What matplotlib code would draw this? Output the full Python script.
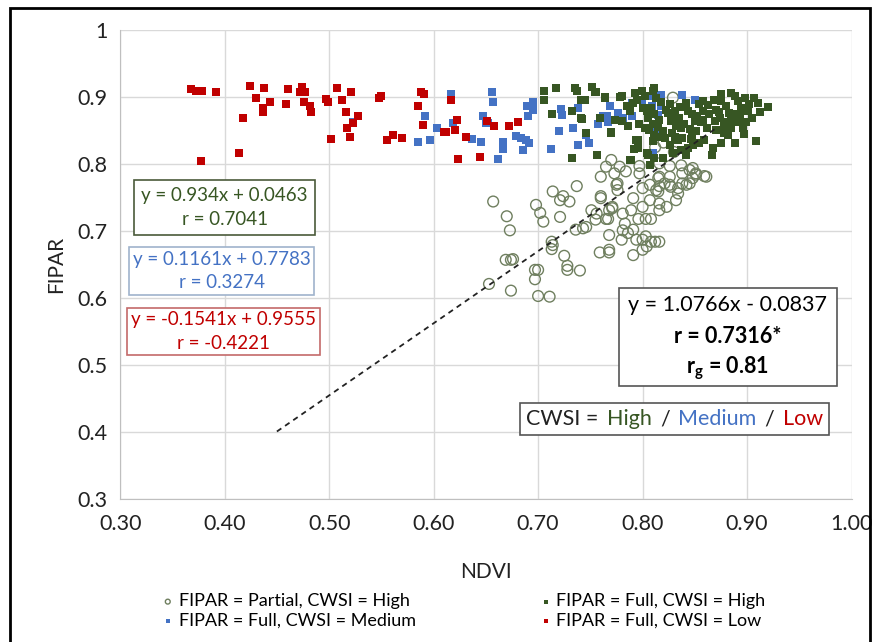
import numpy as np
import matplotlib.pyplot as plt
from matplotlib.patches import Rectangle
from matplotlib.offsetbox import TextArea, HPacker, AnchoredOffsetbox

plt.rcParams['font.family'] = ['Lato', 'DejaVu Sans']
plt.rcParams['mathtext.fontset'] = 'custom'
plt.rcParams['mathtext.rm'] = 'Lato'
plt.rcParams['mathtext.bf'] = 'Lato:bold'

#--- DATA ---#

# FIPAR = Full, CWSI = Low
low_x = [0.368, 0.373, 0.378, 0.392, 0.424, 0.438, 0.430, 0.443, 0.437, 0.437, 0.418, 0.414,
         0.377, 0.461, 0.459, 0.474, 0.472, 0.477, 0.476, 0.482, 0.483, 0.497, 0.499, 0.508,
         0.521, 0.512, 0.516, 0.528, 0.523, 0.517, 0.520, 0.502, 0.550, 0.548, 0.555, 0.561,
         0.570, 0.588, 0.591, 0.585, 0.590, 0.617, 0.622, 0.620, 0.610, 0.612, 0.631, 0.623,
         0.644, 0.651, 0.658, 0.672, 0.681]
low_y = [0.912, 0.909, 0.909, 0.908, 0.916, 0.913, 0.898, 0.892, 0.883, 0.877, 0.868, 0.817,
         0.805, 0.912, 0.889, 0.915, 0.908, 0.908, 0.893, 0.887, 0.877, 0.897, 0.892, 0.913,
         0.908, 0.895, 0.877, 0.871, 0.861, 0.853, 0.841, 0.838, 0.902, 0.899, 0.836, 0.843,
         0.839, 0.908, 0.904, 0.887, 0.858, 0.895, 0.866, 0.850, 0.848, 0.848, 0.840, 0.807,
         0.811, 0.864, 0.856, 0.856, 0.862]

# FIPAR = Full, CWSI = Medium
med_x = [0.617, 0.656, 0.657, 0.592, 0.603, 0.597, 0.585, 0.523, 0.619, 0.637, 0.645, 0.647,
         0.652, 0.662, 0.650, 0.666, 0.666, 0.679, 0.684, 0.688, 0.691, 0.686, 0.690, 0.689,
         0.695, 0.695, 0.712, 0.720, 0.722, 0.723, 0.733, 0.738, 0.738, 0.746, 0.749, 0.757,
         0.762, 0.766, 0.767, 0.769, 0.790, 0.790, 0.799, 0.808, 0.809, 0.818, 0.818, 0.815,
         0.812, 0.816, 0.810, 0.838, 0.850, 0.776, 0.781]
med_y = [0.905, 0.908, 0.892, 0.872, 0.853, 0.836, 0.833, 0.863, 0.861, 0.838, 0.833, 0.872,
         0.861, 0.807, 0.861, 0.833, 0.823, 0.842, 0.839, 0.836, 0.832, 0.821, 0.871, 0.886,
         0.893, 0.881, 0.823, 0.849, 0.882, 0.873, 0.853, 0.883, 0.828, 0.844, 0.831, 0.859,
         0.872, 0.871, 0.863, 0.887, 0.891, 0.871, 0.895, 0.902, 0.886, 0.903, 0.886, 0.873,
         0.853, 0.847, 0.817, 0.903, 0.895, 0.876, 0.868]

# FIPAR = Full, CWSI = High
high_x = [0.706, 0.717, 0.706, 0.713, 0.735, 0.737, 0.732, 0.741, 0.745, 0.752, 0.755, 0.741,
          0.764, 0.759, 0.770, 0.780, 0.785, 0.774, 0.780, 0.786, 0.791, 0.788, 0.793, 0.799,
          0.802, 0.804, 0.797, 0.802, 0.796, 0.796, 0.805, 0.732, 0.756, 0.788, 0.811, 0.808,
          0.806, 0.811, 0.754, 0.764, 0.742, 0.746, 0.770, 0.778, 0.794, 0.792, 0.789, 0.804,
          0.810, 0.813, 0.826, 0.824, 0.831, 0.835, 0.827, 0.832, 0.837, 0.843, 0.847, 0.842,
          0.854, 0.858, 0.858, 0.864, 0.869, 0.874, 0.875, 0.880, 0.885, 0.888, 0.891, 0.894,
          0.898, 0.902, 0.901, 0.907, 0.910, 0.920, 0.909, 0.896, 0.899, 0.891, 0.885, 0.880,
          0.878, 0.882, 0.888, 0.875, 0.867, 0.866, 0.859, 0.854, 0.848, 0.843, 0.842, 0.837,
          0.829, 0.826, 0.821, 0.820, 0.831, 0.838, 0.847, 0.851, 0.875, 0.870, 0.883, 0.890,
          0.850, 0.856, 0.862, 0.870, 0.810, 0.811, 0.816, 0.815, 0.810, 0.811, 0.820, 0.807,
          0.795, 0.800, 0.805, 0.815, 0.822, 0.828, 0.836, 0.840, 0.845, 0.852, 0.858, 0.863,
          0.868, 0.873, 0.878, 0.885, 0.893, 0.897, 0.905, 0.912, 0.818, 0.828, 0.834, 0.846]
high_y = [0.909, 0.913, 0.896, 0.875, 0.913, 0.909, 0.879, 0.896, 0.895, 0.915, 0.908, 0.868,
          0.898, 0.869, 0.846, 0.901, 0.886, 0.865, 0.864, 0.856, 0.891, 0.879, 0.906, 0.909,
          0.901, 0.879, 0.859, 0.854, 0.836, 0.824, 0.814, 0.809, 0.814, 0.806, 0.913, 0.883,
          0.851, 0.844, 0.908, 0.900, 0.867, 0.846, 0.848, 0.900, 0.836, 0.823, 0.806, 0.816,
          0.909, 0.899, 0.889, 0.876, 0.879, 0.869, 0.864, 0.856, 0.854, 0.879, 0.874, 0.891,
          0.889, 0.879, 0.894, 0.874, 0.864, 0.869, 0.894, 0.886, 0.906, 0.901, 0.894, 0.884,
          0.898, 0.889, 0.879, 0.898, 0.891, 0.885, 0.834, 0.854, 0.862, 0.862, 0.864, 0.862,
          0.846, 0.844, 0.831, 0.831, 0.824, 0.814, 0.836, 0.831, 0.828, 0.824, 0.814, 0.821,
          0.816, 0.829, 0.839, 0.849, 0.841, 0.839, 0.844, 0.849, 0.904, 0.881, 0.876, 0.874,
          0.864, 0.862, 0.854, 0.851, 0.859, 0.874, 0.866, 0.841, 0.834, 0.809, 0.809, 0.799,
          0.895, 0.883, 0.868, 0.855, 0.880, 0.872, 0.885, 0.860, 0.852, 0.872, 0.866, 0.888,
          0.896, 0.878, 0.858, 0.853, 0.872, 0.845, 0.868, 0.878, 0.892, 0.846, 0.836, 0.838]

# FIPAR = Partial, CWSI = High
part_x = [0.657, 0.670, 0.673, 0.698, 0.702, 0.705, 0.714, 0.724, 0.721, 0.730, 0.737, 0.721,
          0.713, 0.714, 0.713, 0.725, 0.728, 0.728, 0.740, 0.736, 0.743, 0.746, 0.751, 0.756,
          0.755, 0.760, 0.767, 0.771, 0.775, 0.768, 0.759, 0.768, 0.669, 0.674, 0.676, 0.697,
          0.700, 0.697, 0.653, 0.674, 0.700, 0.711, 0.770, 0.765, 0.778, 0.773, 0.784, 0.797,
          0.797, 0.760, 0.776, 0.776, 0.791, 0.789, 0.800, 0.807, 0.813, 0.815, 0.816, 0.821,
          0.826, 0.827, 0.834, 0.832, 0.838, 0.845, 0.848, 0.851, 0.861, 0.838, 0.845, 0.768,
          0.771, 0.781, 0.765, 0.783, 0.796, 0.803, 0.808, 0.816, 0.823, 0.816, 0.781, 0.786,
          0.791, 0.780, 0.768, 0.794, 0.800, 0.803, 0.808, 0.812, 0.816, 0.804, 0.800, 0.791,
          0.760, 0.800, 0.807, 0.829, 0.816, 0.826, 0.837, 0.848, 0.859, 0.851, 0.815, 0.816,
          0.826, 0.834, 0.842, 0.812, 0.820, 0.830]
part_y = [0.744, 0.722, 0.701, 0.739, 0.727, 0.714, 0.759, 0.752, 0.746, 0.744, 0.767, 0.721,
          0.684, 0.679, 0.673, 0.663, 0.648, 0.642, 0.641, 0.702, 0.704, 0.706, 0.731, 0.726,
          0.717, 0.752, 0.718, 0.734, 0.769, 0.694, 0.668, 0.668, 0.657, 0.657, 0.658, 0.642,
          0.642, 0.628, 0.621, 0.611, 0.603, 0.602, 0.806, 0.796, 0.796, 0.786, 0.789, 0.797,
          0.786, 0.781, 0.771, 0.761, 0.749, 0.731, 0.736, 0.746, 0.761, 0.759, 0.781, 0.771,
          0.781, 0.766, 0.756, 0.746, 0.786, 0.791, 0.779, 0.786, 0.781, 0.771, 0.771, 0.731,
          0.736, 0.726, 0.718, 0.711, 0.718, 0.718, 0.718, 0.731, 0.736, 0.741, 0.701, 0.697,
          0.702, 0.687, 0.672, 0.687, 0.687, 0.692, 0.684, 0.684, 0.684, 0.677, 0.672, 0.664,
          0.749, 0.764, 0.769, 0.899, 0.801, 0.797, 0.798, 0.794, 0.782, 0.784, 0.779, 0.767,
          0.769, 0.764, 0.769, 0.825, 0.832, 0.818]

# regression line for all points
slope, intercept = 1.0766, -0.0837
line_x = [0.45, 0.87]

x_ticks = [0.30, 0.40, 0.50, 0.60, 0.70, 0.80, 0.90, 1.00]
y_ticks = [0.3, 0.4, 0.5, 0.6, 0.7, 0.8, 0.9, 1.0]
y_tick_labels = ["0.3", "0.4", "0.5", "0.6", "0.7", "0.8", "0.9", "1"]

#--- COLOURS ---#
c_high = "#375623"
c_med = "#4472c4"
c_low = "#c00000"
c_part = "#6f7f5f"

#--- PLOT ---#
fig = plt.figure(figsize=(8.77, 6.42), dpi=100)
ax = fig.add_axes([0.137, 0.2227, 0.834, 0.7306])

ax.scatter(part_x, part_y, s=60, facecolors="none", edgecolors=c_part, linewidths=1.0,
           label="FIPAR = Partial, CWSI = High", zorder=3)
ax.scatter(med_x, med_y, s=26, marker="s", color=c_med, linewidths=0,
           label="FIPAR = Full, CWSI = Medium", zorder=3)
ax.scatter(high_x, high_y, s=26, marker="s", color=c_high, linewidths=0,
           label="FIPAR = Full, CWSI = High", zorder=3)
ax.scatter(low_x, low_y, s=26, marker="s", color=c_low, linewidths=0,
           label="FIPAR = Full, CWSI = Low", zorder=3)

lx = np.array(line_x)
ax.plot(lx, slope*lx + intercept, ls=(0, (3, 2.5)), color="#222222", lw=1.3, zorder=4)

ax.set_xlim(0.30, 1.00)
ax.set_ylim(0.3, 1.0)
ax.set_xticks(x_ticks)
ax.set_xticklabels(["%.2f" % t for t in x_ticks])
ax.set_yticks(y_ticks)
ax.set_yticklabels(y_tick_labels)
ax.tick_params(length=0, labelsize=15.5, colors="#222222")
ax.tick_params(axis="x", pad=11)
ax.tick_params(axis="y", pad=9)
ax.grid(True, color="#d9d9d9", lw=1)
ax.set_axisbelow(True)
for side in ["top", "right"]:
    ax.spines[side].set_visible(False)
for side in ["left", "bottom"]:
    ax.spines[side].set_color("#bfbfbf")
ax.set_xlabel("NDVI", fontsize=15, labelpad=20, color="#222222")
ax.set_ylabel("FIPAR", fontsize=15, labelpad=8, color="#222222")

# equation boxes
box_kw = dict(ha="center", va="center", fontsize=13.5, linespacing=1.45, transform=ax.transAxes)
ax.text(0.143, 0.6215, "y = 0.934x + 0.0463\nr = 0.7041", color=c_high,
        bbox=dict(boxstyle="square,pad=0.4", fc="white", ec="#4a5a3a", lw=1.2), **box_kw)
ax.text(0.139, 0.486, "y = 0.1161x + 0.7783\nr = 0.3274", color=c_med,
        bbox=dict(boxstyle="square,pad=0.2", fc="white", ec="#9fb3cc", lw=1.2), **box_kw)
ax.text(0.141, 0.357, "y = -0.1541x + 0.9555\nr = -0.4221", color=c_low,
        bbox=dict(boxstyle="square,pad=0.2", fc="white", ec="#c46a6a", lw=1.2), **box_kw)

# overall regression box
ax.add_patch(Rectangle((0.6817, 0.241), 0.2978, 0.209, transform=ax.transAxes,
                       fc="white", ec="#555555", lw=1.2, zorder=5))
ax.text(0.8306, 0.4136, "y = 1.0766x - 0.0837", ha="center", va="center", fontsize=15.5,
        transform=ax.transAxes, zorder=6)
ax.text(0.8306, 0.3475, "r = 0.7316*", ha="center", va="center", fontsize=15.5, weight="bold",
        transform=ax.transAxes, zorder=6)
ax.text(0.8306, 0.279, r"$\mathbf{r_g}$ = 0.81", ha="center", va="center", fontsize=15.5,
        weight="bold", transform=ax.transAxes, zorder=6)

# CWSI colour key
parts = [("CWSI =", "#222222"), ("High", c_high), ("/", "#222222"),
         ("Medium", c_med), ("/", "#222222"), ("Low", c_low)]
areas = [TextArea(t, textprops=dict(color=c, fontsize=15.5)) for t, c in parts]
pack = HPacker(children=areas, align="center", pad=0, sep=6)
anch = AnchoredOffsetbox(loc="center", child=pack, pad=0.45, frameon=True,
                         bbox_to_anchor=(0.758, 0.1706), bbox_transform=ax.transAxes,
                         borderpad=0)
anch.patch.set_edgecolor("#555555")
anch.patch.set_linewidth(1.2)
anch.zorder = 6
ax.add_artist(anch)

# legend below
h, l = ax.get_legend_handles_labels()
fig.legend(h, l, loc="center", bbox_to_anchor=(0.528, 0.048), ncol=2, frameon=False,
           fontsize=13, markerscale=0.45, handletextpad=0.2, handlelength=0.8,
           columnspacing=6.8, labelspacing=0.2)

# outer frame
fig.patches.append(Rectangle((0.011, -0.01), 0.981, 0.998, transform=fig.transFigure,
                             fill=False, ec="black", lw=2))

plt.savefig("out.png", dpi=100)
